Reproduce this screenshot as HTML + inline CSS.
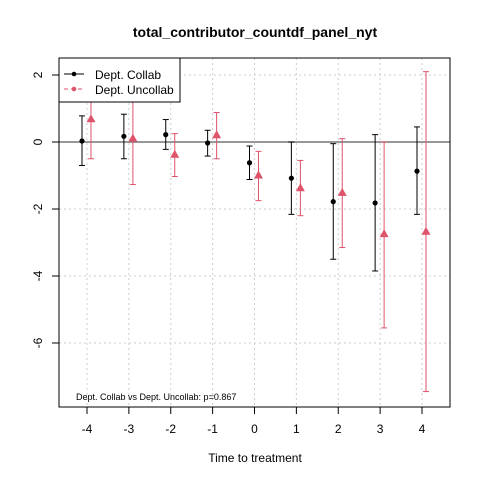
<!DOCTYPE html>
<html><head><meta charset="utf-8"><style>body{margin:0;background:#fff}svg{font-family:"Liberation Sans",sans-serif}</style></head>
<body>
<svg id="c" width="480" height="480"></svg>
<script>
const periods=[-4,-3,-2,-1,0,1,2,3,4];
const collabEst=[0.03,0.17,0.22,-0.03,-0.62,-1.08,-1.78,-1.82,-0.87];
const collabLo=[-0.7,-0.5,-0.22,-0.42,-1.12,-2.16,-3.5,-3.85,-2.16];
const collabHi=[0.78,0.83,0.67,0.35,-0.12,0.0,-0.05,0.22,0.45];
const unEst=[0.68,0.1,-0.38,0.2,-1.0,-1.38,-1.52,-2.75,-2.68];
const unLo=[-0.5,-1.27,-1.03,-0.5,-1.75,-2.2,-3.15,-5.55,-7.45];
const unHi=[1.6,1.5,0.25,0.88,-0.28,-0.55,0.1,0.0,2.1];
const yTicks=[2,0,-2,-4,-6];
const NS="http://www.w3.org/2000/svg",svg=document.getElementById('c');
const X=v=>87+(v+4)*41.875, Y=v=>142-v*33.5;
function mk(t,a,p){const e=document.createElementNS(NS,t);for(const k in a)e.setAttribute(k,a[k]);(p||svg).appendChild(e);return e;}
const L=59,R=450,T=58,B=407;
// grid
periods.forEach(p=>{const g=mk('line',{x1:X(p),x2:X(p),y1:T,y2:B,stroke:'#ccc','stroke-dasharray':'2,3'});
});
yTicks.forEach(v=>{const g=mk('line',{x1:L,x2:R,y1:Y(v),y2:Y(v),stroke:'#ccc','stroke-dasharray':'2,3'});
});
const z=mk('line',{x1:L,x2:R,y1:Y(0),y2:Y(0),stroke:'#777','stroke-width':1.5});

function series(est,lo,hi,off,col,tri,name){
 est.forEach((e,i)=>{const x=X(periods[i])+off;
  const g=mk('g',{});
  mk('line',{x1:x,x2:x,y1:Y(lo[i]),y2:Y(hi[i]),stroke:col},g);
  mk('line',{x1:x-3,x2:x+3,y1:Y(lo[i]),y2:Y(lo[i]),stroke:col},g);
  mk('line',{x1:x-3,x2:x+3,y1:Y(hi[i]),y2:Y(hi[i]),stroke:col},g);
  const y=Y(e);
  if(tri)mk('polygon',{points:`${x},${y-5} ${x-4.5},${y+3} ${x+4.5},${y+3}`,fill:col},g);
  else mk('circle',{cx:x,cy:y,r:2.6,fill:col},g);
 });}
series(collabEst,collabLo,collabHi,-5,'#000',false,'collab');
series(unEst,unLo,unHi,4,'#df536b',true,'uncollab');
const bx=mk('rect',{x:L,y:T,width:R-L,height:B-T,fill:'none',stroke:'#000'});

// axes ticks
periods.forEach(p=>{mk('line',{x1:X(p),x2:X(p),y1:B,y2:B+7,stroke:'#000'});
 const t=mk('text',{x:X(p),y:B+26,'text-anchor':'middle','font-size':12});t.textContent=p;
 });
yTicks.forEach(v=>{mk('line',{x1:L-7,x2:L,y1:Y(v),y2:Y(v),stroke:'#000'});
 const t=mk('text',{x:42,y:Y(v),'text-anchor':'middle','font-size':12,transform:`rotate(-90 42 ${Y(v)})`});t.textContent=v;
 });
</script>
<svg width="480" height="480" style="position:absolute;left:0;top:0">
<text x="255" y="37" text-anchor="middle" font-size="14" font-weight="bold">total_contributor_countdf_panel_nyt</text>
<text x="255" y="462" text-anchor="middle" font-size="12">Time to treatment</text>
<text x="76" y="400" font-size="9">Dept. Collab vs Dept. Uncollab: p=0.867</text>
<g>
<rect x="59" y="58" width="121" height="44" fill="#fff" stroke="#000"/>
<line x1="64" x2="84" y1="74" y2="74" stroke="#000"/><circle cx="74" cy="74" r="2.3" fill="#000"/>
<text x="95" y="79" font-size="12">Dept. Collab</text>
<line x1="64" x2="84" y1="89" y2="89" stroke="#df536b" stroke-dasharray="4,3"/><circle cx="74" cy="89" r="2.3" fill="#df536b"/>
<text x="95" y="94" font-size="12">Dept. Uncollab</text>
</g>
</svg>
</body></html>
